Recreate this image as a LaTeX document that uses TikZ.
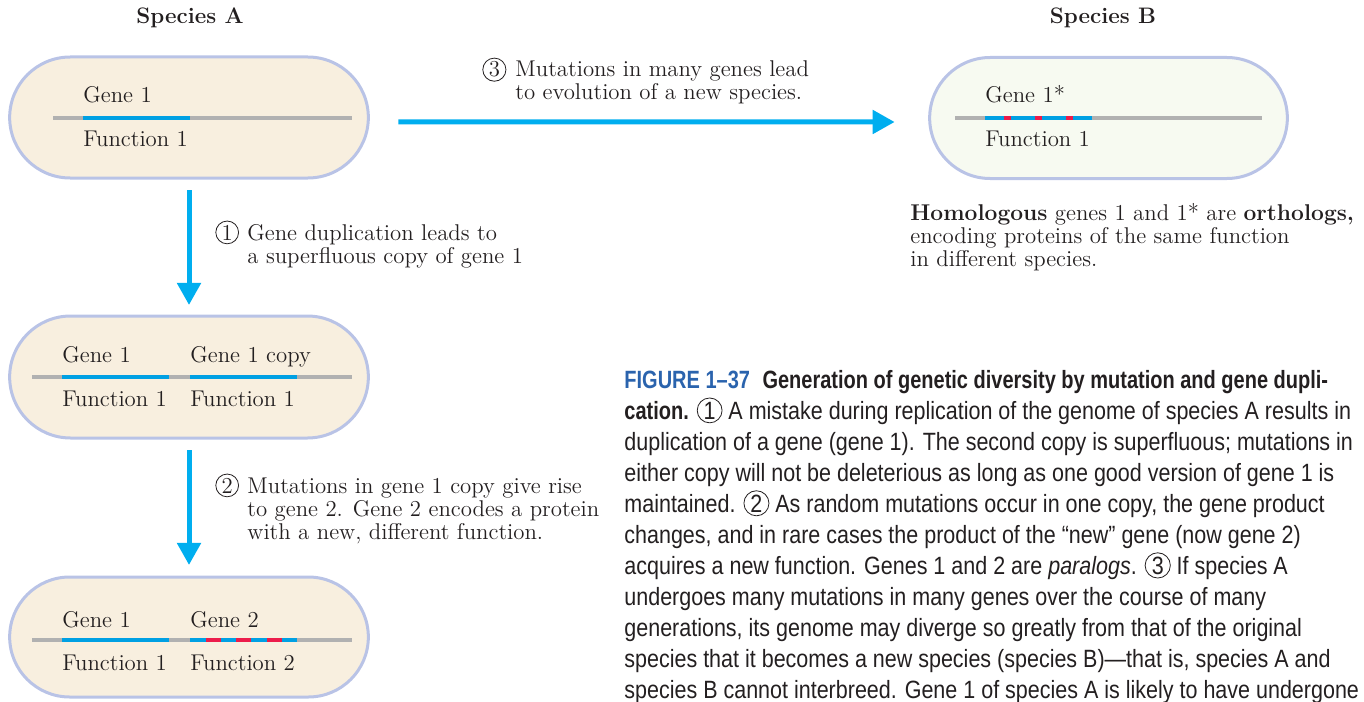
\documentclass[tikz,border=0pt]{standalone}
\usepackage{fontspec}
\usepackage{tikz}
\usetikzlibrary{positioning,arrows.meta,shapes.misc}
\newfontfamily\capfont[FakeStretch=0.86,BoldFeatures={FakeStretch=0.8}]{Liberation Sans}
\definecolor{cellcream}{HTML}{F8EFDF}
\definecolor{cellmint}{HTML}{F7FAF1}
\definecolor{cellrim}{HTML}{B9C3E6}
\definecolor{dnagrey}{HTML}{B1B1B1}
\definecolor{genecyan}{HTML}{00A0E3}
\definecolor{flowcyan}{HTML}{00AEEF}
\definecolor{mutred}{HTML}{EC1C4B}
\definecolor{figblue}{HTML}{2A63AD}
\definecolor{inktext}{HTML}{231F20}
\newcommand{\circnum}[1]{\tikz[baseline=(cn.base)]\node[draw=inktext,circle,inner sep=0.7pt,line width=0.4pt](cn){#1};}
\tikzset{
  cell/.style={rounded rectangle,draw=cellrim,line width=1.5pt,fill=cellcream,
    minimum width=186pt,minimum height=60.5pt,outer sep=0pt},
  dna/.style={draw=dnagrey,line width=2.4pt},
  gene/.style={draw=genecyan,line width=2.4pt},
  mut/.style={draw=mutred,line width=2.4pt},
  flow/.style={draw=flowcyan,line width=2.5pt,-{Triangle[width=11.5pt,length=11pt]}},
  lbl/.style={inner sep=0pt,anchor=base west,font=\fontsize{11.4}{11.5}\selectfont,text=inktext},
  note/.style={lbl,align=left},
  figcap/.style={inner sep=0pt,anchor=base west,align=left,text=inktext,
    font=\capfont\fontsize{12.5}{15.5}\selectfont},
}
\begin{document}
\begin{tikzpicture}[x=0.5pt,y=-0.5pt]
\useasboundingbox (0,0) rectangle (1364,701);
% headings
\node[lbl,anchor=center,font=\bfseries\fontsize{11.2}{11.5}\selectfont] (hdA) at (190,18) {Species A};
\node[lbl,anchor=center,font=\bfseries\fontsize{11.2}{11.5}\selectfont] (hdB) at (1103,18) {Species B};
% cells
\node[cell] (spA1) at (189,117.5) {};
\node[cell,fill=cellmint,minimum width=185.5pt] (spB) at (1108.5,118) {};
\node[cell,minimum height=61pt] (spA2) at (189,377) {};
\node[cell,minimum height=60pt] (spA3) at (189,637) {};
% species A, gene 1
\draw[dna] (53,118) -- (352,118);
\draw[gene] (83,118) -- (190,118);
\node[lbl] (g1a) at (83,103) {Gene 1};
\node[lbl] (f1a) at (83,147) {Function 1};
% species B, gene 1*
\draw[dna] (955,118) -- (1262,118);
\draw[gene] (985,118) -- (1092,118);
\foreach \x in {1004,1035,1066} \draw[mut] (\x,118) -- ++(7,0);
\node[lbl] (g1b) at (985,103) {Gene 1*};
\node[lbl] (f1b) at (985,147) {Function 1};
% duplicated
\draw[dna] (32,377) -- (352,377);
\draw[gene] (62,377) -- (169,377);
\draw[gene] (190,377) -- (297,377);
\node[lbl] (g1c) at (62,362) {Gene 1};
\node[lbl] (g1d) at (190,362) {Gene 1 copy};
\node[lbl] (f1c) at (62,406) {Function 1};
\node[lbl] (f1d) at (190,406) {Function 1};
% gene 2
\draw[dna] (32,640) -- (352,640);
\draw[gene] (62,640) -- (169,640);
\draw[gene] (190,640) -- (297,640);
\foreach \x in {206,236,267} \draw[mut] (\x,640) -- ++(14.5,0);
\node[lbl] (g1e) at (62,627) {Gene 1};
\node[lbl] (g2e) at (190,627) {Gene 2};
\node[lbl] (f1e) at (62,670) {Function 1};
\node[lbl] (f2e) at (190,670) {Function 2};
% arrows
\draw[flow,shorten <=6pt,shorten >=5.5pt] (spA1) -- (spA2);
\draw[flow,shorten <=6pt,shorten >=6pt] (spA2) -- (spA3);
\draw[flow,shorten <=15pt,shorten >=17.5pt] ([yshift=-2.2pt]spA1.east) -- ([yshift=-2pt]spB.west);
% step labels (base = last line)
\node[lbl] (n1) at (215,240) {\circnum{1}};
\node[note] (st1) at (247,263) {Gene duplication leads to\\a superfluous copy of gene 1};
\node[lbl] (n2) at (215,493) {\circnum{2}};
\node[note] (st2) at (247,539) {Mutations in gene 1 copy give rise\\to gene 2. Gene 2 encodes a protein\\with a new, different function.};
\node[lbl] (n3) at (482,77) {\circnum{3}};
\node[note] (st3) at (515,100) {Mutations in many genes lead\\to evolution of a new species.};
\node[note] (homo) at (910,266) {\textbf{Homologous} genes 1 and 1* are \textbf{orthologs,}\\encoding proteins of the same function\\in different species.};
% caption
\node[figcap] (fig) at (624,698) {{\bfseries\color{figblue}FIGURE 1–37}\enspace{\bfseries Generation of genetic diversity by mutation and gene dupli-}\\
{\bfseries cation.} \circnum{1} A mistake during replication of the genome of species A results in\\
duplication of a gene (gene 1). The second copy is superfluous; mutations in\\
either copy will not be deleterious as long as one good version of gene 1 is\\
maintained. \circnum{2} As random mutations occur in one copy, the gene product\\
changes, and in rare cases the product of the “new” gene (now gene 2)\\
acquires a new function. Genes 1 and 2 are \textit{paralogs}. \circnum{3} If species A\\
undergoes many mutations in many genes over the course of many\\
generations, its genome may diverge so greatly from that of the original\\
species that it becomes a new species (species B)—that is, species A and\\
species B cannot interbreed. Gene 1 of species A is likely to have undergone};
\end{tikzpicture}
\end{document}
